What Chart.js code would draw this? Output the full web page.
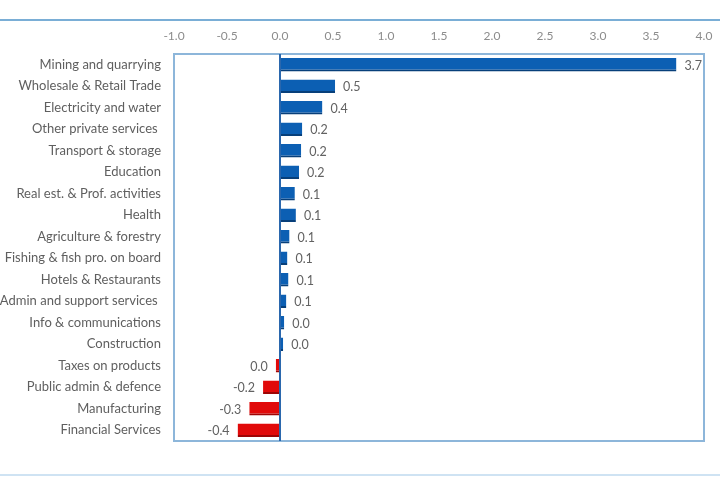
<!DOCTYPE html>
<html>
<head>
<meta charset="utf-8">
<script src="https://cdn.jsdelivr.net/npm/chart.js@4.4.1/dist/chart.umd.min.js"></script>
<style>
    html, body { margin: 0; padding: 0; background: #ffffff; }
    #caixa { position: relative; width: 720px; height: 493px; }
</style>
</head>
<body>
<div id="caixa"><canvas id="graficoSectores"></canvas></div>
<script>
/* Dados do gráfico (contributo por sector) */
const sectores = [
    'Mining and quarrying', 'Wholesale & Retail Trade', 'Electricity and water',
    'Other private services ', 'Transport & storage', 'Education',
    'Real est. & Prof. activities', 'Health', 'Agriculture & forestry',
    'Fishing & fish pro. on board', 'Hotels & Restaurants', 'Admin and support services ',
    'Info & communications', 'Construction', 'Taxes on products',
    'Public admin & defence', 'Manufacturing', 'Financial Services'
];
const valores = [3.74, 0.52, 0.40, 0.21, 0.20, 0.18, 0.14, 0.15, 0.09,
    0.07, 0.08, 0.06, 0.04, 0.03, -0.04, -0.16, -0.29, -0.40];
const ticksX = [-1.0, -0.5, 0.0, 0.5, 1.0, 1.5, 2.0, 2.5, 3.0, 3.5, 4.0];

const FONTE = 'Lato, "Open Sans", sans-serif';

function formatarValor(v) {
    const t = v.toFixed(1);
    return t === '-0.0' ? '0.0' : t;
}

/* Linhas de enquadramento, caixa da área do gráfico e eixo do zero */
const pluginMoldura = {
    id: 'moldura',
    beforeDraw: function (chart) {
        const ctx = chart.ctx;
        ctx.save();
        ctx.fillStyle = '#7aaed6';
        ctx.fillRect(0, 19, chart.width, 2);
        ctx.fillStyle = '#cfe3f3';
        ctx.fillRect(0, 474, chart.width, 2);
        ctx.restore();
    },
    afterDatasetsDraw: function (chart) {
        const ctx = chart.ctx;
        const area = chart.chartArea;
        const x0 = chart.scales.x.getPixelForValue(0);
        ctx.save();
        ctx.strokeStyle = '#8db6da';
        ctx.lineWidth = 2;
        ctx.strokeRect(area.left, area.top, area.right - area.left, area.bottom - area.top);
        ctx.strokeStyle = '#2a67ad';
        ctx.beginPath();
        ctx.moveTo(x0, area.top);
        ctx.lineTo(x0, area.bottom);
        ctx.stroke();

        /* Rótulos dos valores junto ao fim de cada barra */
        ctx.font = '12.5px ' + FONTE;
        ctx.fillStyle = '#626262';
        ctx.textBaseline = 'middle';
        chart.getDatasetMeta(0).data.forEach(function (barra, i) {
            const v = valores[i];
            if (v >= 0) {
                ctx.textAlign = 'left';
                ctx.fillText(formatarValor(v), barra.x + 8, barra.y + 1);
            } else {
                ctx.textAlign = 'right';
                ctx.fillText(formatarValor(v), barra.x - 8, barra.y + 1);
            }
        });
        ctx.restore();
    }
};

new Chart(document.getElementById('graficoSectores'), {
    type: 'bar',
    data: {
        labels: sectores,
        datasets: [{
            data: valores,
            backgroundColor: valores.map(function (v) { return v >= 0 ? '#0c5fb3' : '#e10a0a'; }),
            borderColor: valores.map(function (v) { return v >= 0 ? '#073f7a' : '#9e0505'; }),
            borderWidth: { top: 0, left: 0, right: 0, bottom: 2 },
            borderSkipped: false,
            barPercentage: 0.62,
            categoryPercentage: 1.0
        }]
    },
    options: {
        indexAxis: 'y',
        responsive: true,
        maintainAspectRatio: false,
        animation: false,
        layout: {
            padding: { top: 22, left: 0, right: 16, bottom: 52 }
        },
        plugins: {
            legend: { display: false },
            tooltip: { enabled: false }
        },
        scales: {
            x: {
                position: 'top',
                min: -1,
                max: 4,
                afterBuildTicks: function (scale) {
                    scale.ticks = ticksX.map(function (v) { return { value: v }; });
                },
                afterFit: function (scale) {
                    scale.height = 32;
                    scale.paddingLeft = 0;
                    scale.paddingRight = 0;
                },
                grid: { display: false, drawTicks: false },
                border: { display: false },
                ticks: {
                    padding: 11,
                    color: '#8c8c8c',
                    font: { family: FONTE, size: 12 },
                    callback: function (v) { return Number(v).toFixed(1); }
                }
            },
            y: {
                afterFit: function (scale) {
                    scale.width = 174;
                },
                grid: { display: false, drawTicks: false },
                border: { display: false },
                ticks: {
                    padding: 13,
                    color: '#5f5f5f',
                    font: { family: FONTE, size: 13 }
                }
            }
        }
    },
    plugins: [pluginMoldura]
});
</script>
</body>
</html>
